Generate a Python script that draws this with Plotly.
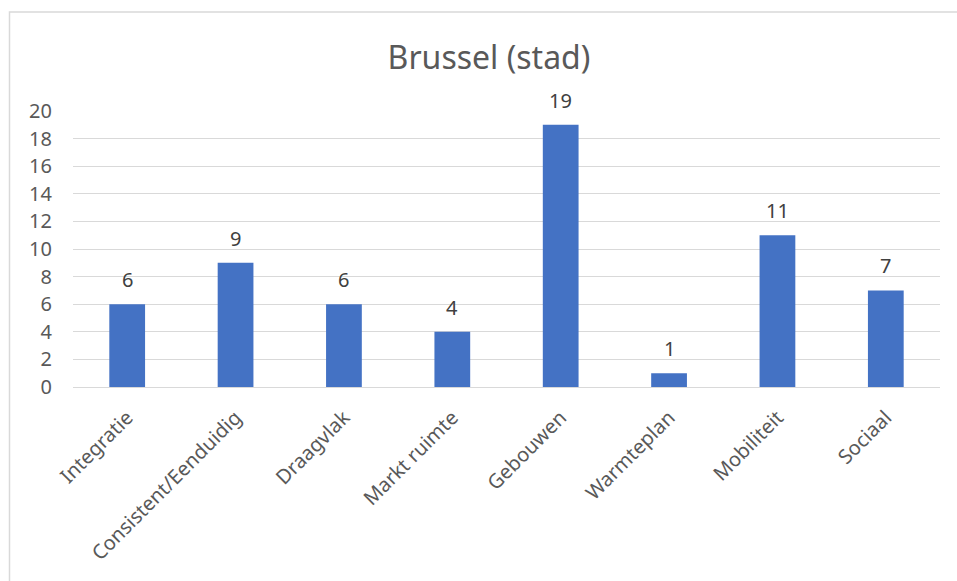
import plotly.graph_objects as go

categories = ["Integratie", "Consistent/Eenduidig", "Draagvlak", "Markt ruimte",
              "Gebouwen", "Warmteplan", "Mobiliteit", "Sociaal"]
values = [6, 9, 6, 4, 19, 1, 11, 7]
y_ticks = [0, 2, 4, 6, 8, 10, 12, 14, 16, 18, 20]

FONT = "Noto Sans"
L, R, T, B = 73, 17, 111, 194
W, H = 957, 581
pw = W - L - R
ph = H - T - B

fig = go.Figure(go.Bar(
    x=categories, y=values,
    marker=dict(color="#4472C4", line=dict(width=0)),
    hoverinfo="x+y",
))

for c, v in zip(categories, values):
    fig.add_annotation(x=c, y=v, text=str(v), showarrow=False,
                       yanchor="bottom", yshift=9,
                       font=dict(family=FONT, size=20, color="#404040"))

fig.update_layout(
    width=W, height=H,
    margin=dict(l=L, r=R, t=T, b=B),
    paper_bgcolor="white", plot_bgcolor="white",
    bargap=0.67,
    showlegend=False,
    title=dict(text="Brussel (stad)", x=489 / W, xanchor="center",
               y=1 - 58 / H, yanchor="middle",
               font=dict(family=FONT, size=32, color="#595959")),
    xaxis=dict(tickangle=-45, tickfont=dict(family=FONT, size=20, color="#595959"),
               showgrid=False, showline=True, linecolor="#d9d9d9", linewidth=1,
               ticks="", ticklen=0, ticklabelstandoff=10),
    yaxis=dict(range=[0, 20], tickvals=y_ticks, ticktext=[str(t) for t in y_ticks],
               tickfont=dict(family=FONT, size=20, color="#595959"),
               showgrid=True, gridcolor="#d9d9d9", gridwidth=1,
               zeroline=False, showline=False, ticks="", ticklabelstandoff=20),
    shapes=[dict(type="rect", xref="paper", yref="paper",
                 x0=(9.5 - L) / pw, x1=(W + 5 - L) / pw,
                 y0=-(H + 5 - T - ph) / ph, y1=1 + (T - 12) / ph,
                 line=dict(color="#d9d9d9", width=1.5), layer="below")],
)

fig.write_html("out.html", config={"displayModeBar": False},
               post_script="document.body.style.margin='0';document.body.style.overflow='hidden';")
